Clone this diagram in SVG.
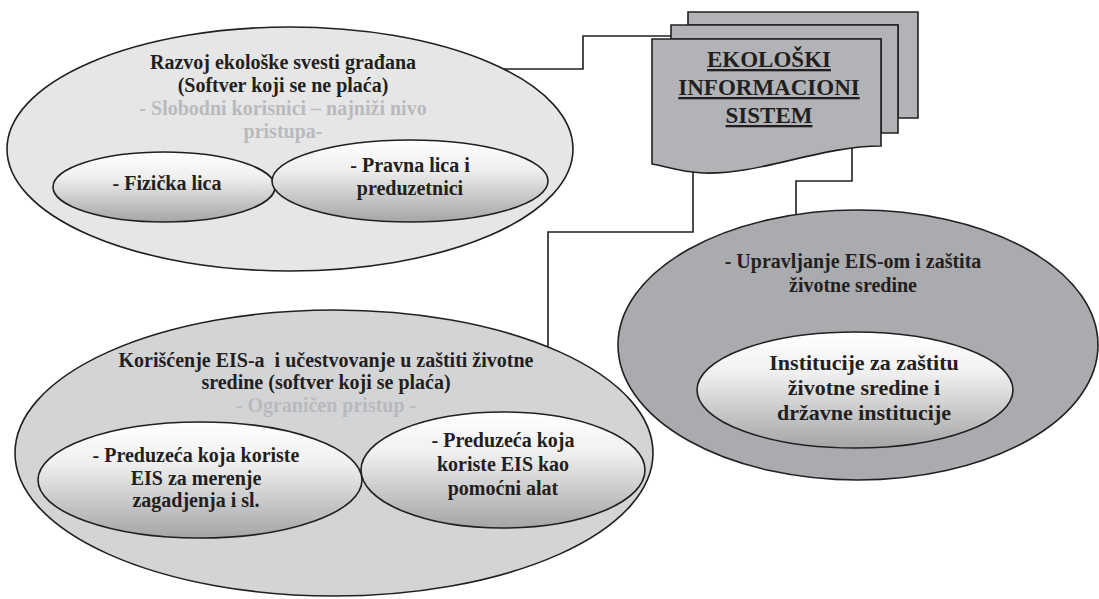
<svg xmlns="http://www.w3.org/2000/svg" width="1099" height="599" viewBox="0 0 1099 599">
<defs>
<linearGradient id="g" x1="0" y1="0" x2="0" y2="1">
<stop offset="0" stop-color="#ffffff"/>
<stop offset="0.35" stop-color="#f0f0f0"/>
<stop offset="1" stop-color="#a4a5a7"/>
</linearGradient>
<style>
.o{stroke:#231f20;stroke-width:1.6}
.in{fill:url(#g);stroke:#231f20;stroke-width:1.6}
.tx{fill:#231f20;text-anchor:middle}
.lt{fill:#b9babc}
.doc{fill:#b1b3b6;stroke:#231f20;stroke-width:1.6}
.c{fill:none;stroke:#231f20;stroke-width:1.6}
</style>
</defs>
<rect width="1099" height="599" fill="#ffffff"/>
<g id="connectors">
<polyline class="c" points="495,69 583,69 583,36 672,36"/>
<polyline class="c" points="693,172 693,232 548,232 548,356"/>
<polyline class="c" points="852,146 852,181 796,181 796,222"/>
</g>
<g font-family="'Liberation Serif', 'Times New Roman', 'DejaVu Serif', serif" font-weight="bold" font-size="20">
<g id="node-razvoj">
<ellipse class="o" cx="290" cy="149" rx="283" ry="122" fill="#e6e6e7"/>
<text class="tx" x="283" y="69">Razvoj ekološke svesti građana</text>
<text class="tx" x="283" y="92">(Softver koji se ne plaća)</text>
<text class="tx lt" x="283" y="115">- Slobodni korisnici – najniži nivo</text>
<text class="tx lt" x="283" y="138">pristupa-</text>
</g>
<g id="node-fizicka">
<ellipse class="in" cx="164" cy="187" rx="111" ry="35"/>
<text class="tx" x="167" y="190">- Fizička lica</text>
</g>
<g id="node-pravna">
<ellipse class="in" cx="410" cy="181" rx="138" ry="41"/>
<text class="tx" x="410" y="172">- Pravna lica i</text>
<text class="tx" x="410" y="195">preduzetnici</text>
</g>
<g id="node-eis">
<path class="doc" d="M688,12 H918 V118 H898 V25 H688 Z"/>
<path class="doc" d="M671,25 H898 V133 H881 V39 H671 Z"/>
<path class="doc" d="M652,39 H881 V146 C820,146 760,175 703,173 C680,172 665,166 652,164 Z"/>
<text class="tx" x="769" y="67" font-size="23" text-decoration="underline">EKOLOŠKI</text>
<text class="tx" x="769" y="95" font-size="23" text-decoration="underline">INFORMACIONI</text>
<text class="tx" x="769" y="123" font-size="23" text-decoration="underline">SISTEM</text>
</g>
<g id="node-upravljanje">
<ellipse class="o" cx="858" cy="345" rx="240" ry="135" fill="#a9abae"/>
<text class="tx" x="853" y="268">- Upravljanje EIS-om i zaštita</text>
<text class="tx" x="853" y="292">životne sredine</text>
</g>
<g id="node-institucije">
<ellipse class="in" cx="855" cy="390" rx="158" ry="58"/>
<text class="tx" x="864" y="370" font-size="22">Institucije za zaštitu</text>
<text class="tx" x="864" y="395" font-size="22">životne sredine i</text>
<text class="tx" x="864" y="420" font-size="22">državne institucije</text>
</g>
<g id="node-koriscenje">
<ellipse class="o" cx="334" cy="453" rx="319" ry="143" fill="#d3d4d6"/>
<text class="tx" x="326" y="367" xml:space="preserve">Korišćenje EIS-a  i učestvovanje u zaštiti životne</text>
<text class="tx" x="326" y="389">sredine (softver koji se plaća)</text>
<text class="tx lt" x="326" y="412">- Ograničen pristup -</text>
</g>
<g id="node-preduzeca-merenje">
<ellipse class="in" cx="200" cy="480" rx="162" ry="58"/>
<text class="tx" x="196" y="462">- Preduzeća koja koriste</text>
<text class="tx" x="196" y="485">EIS za merenje</text>
<text class="tx" x="196" y="507">zagadjenja i sl.</text>
</g>
<g id="node-preduzeca-alat">
<ellipse class="in" cx="503" cy="470" rx="142" ry="58"/>
<text class="tx" x="503" y="447">- Preduzeća koja</text>
<text class="tx" x="503" y="471">koriste EIS kao</text>
<text class="tx" x="503" y="495">pomoćni alat</text>
</g>
</g>
</svg>
